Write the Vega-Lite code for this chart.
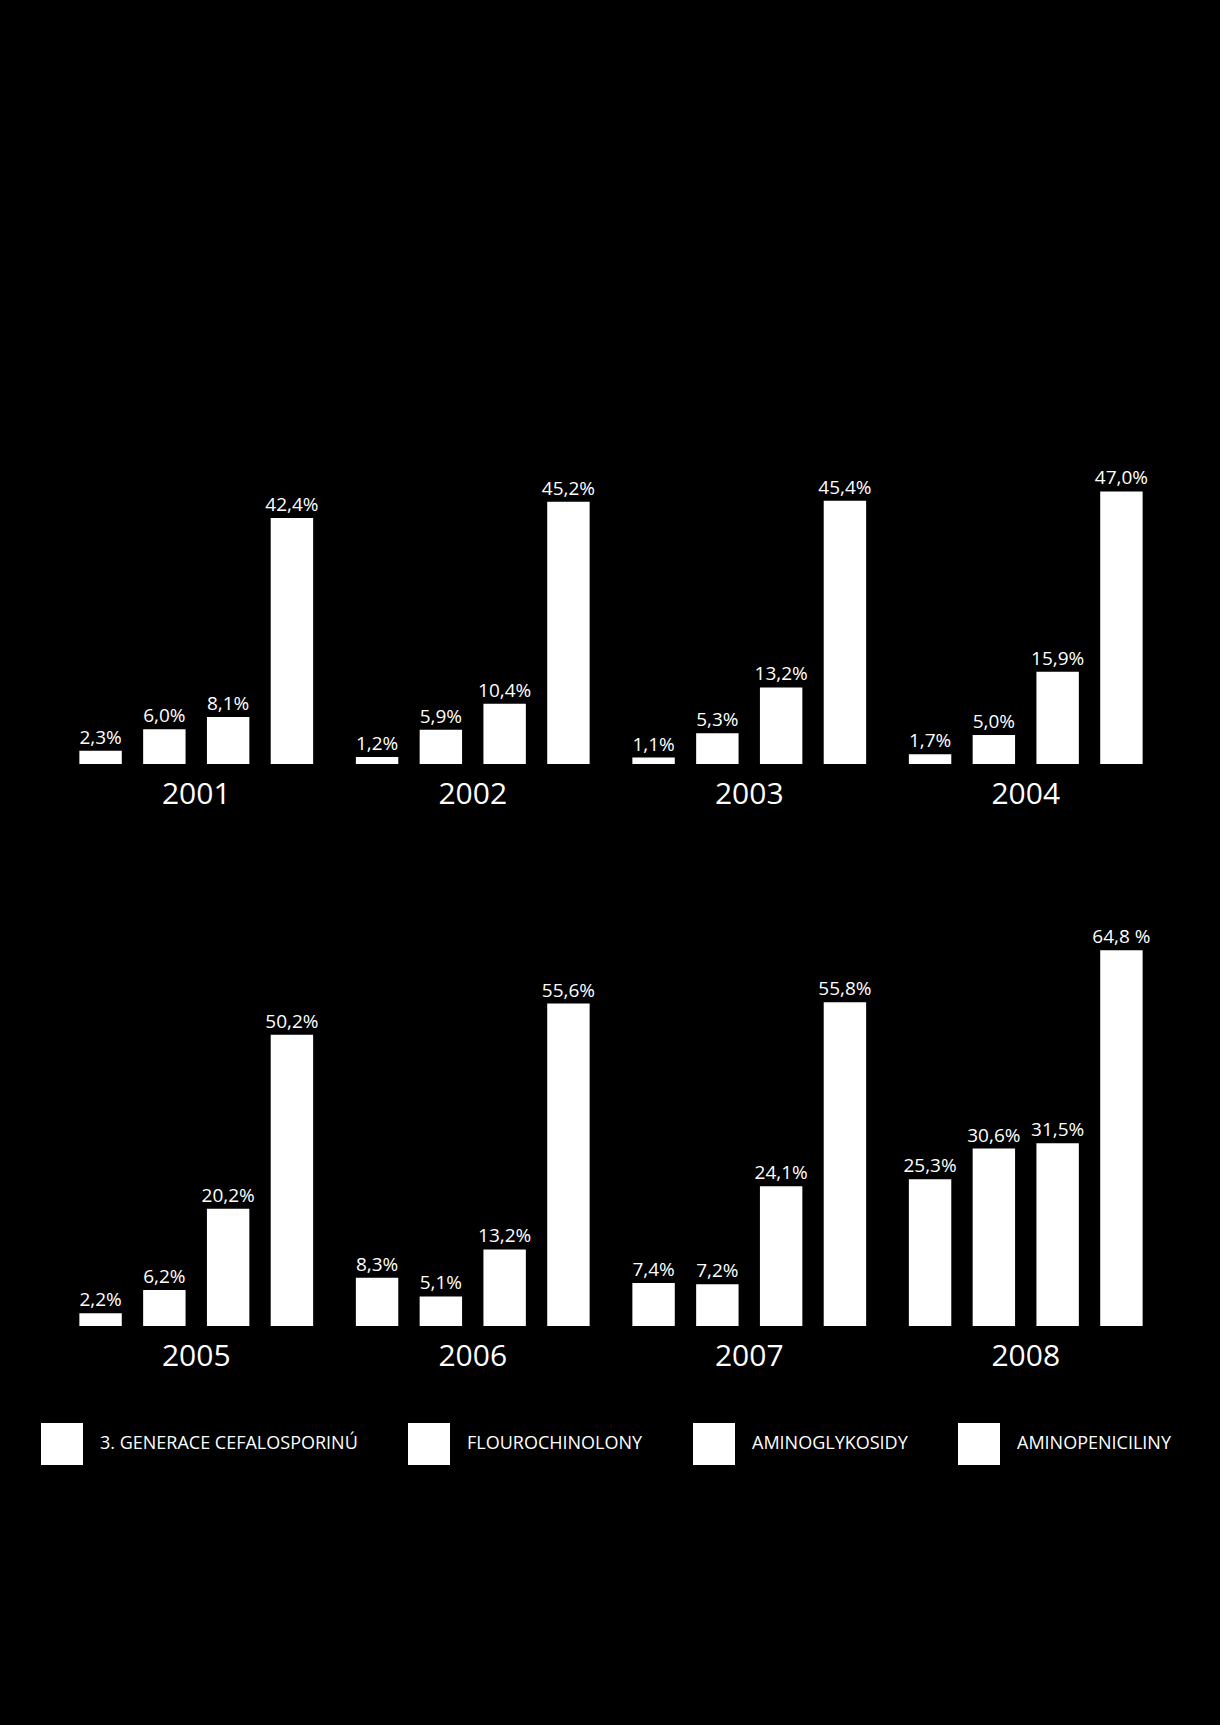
{
  "$schema": "https://vega.github.io/schema/vega-lite/v6.json",
  "background": "black",
  "padding": {"left": 41, "top": 358, "right": 50, "bottom": 260},
  "data": {"values": [
    {"year": 2001, "cat": "3. GENERACE CEFALOSPORINÚ", "value": 2.3, "label": "2,3%"},
    {"year": 2001, "cat": "FLOUROCHINOLONY", "value": 6.0, "label": "6,0%"},
    {"year": 2001, "cat": "AMINOGLYKOSIDY", "value": 8.1, "label": "8,1%"},
    {"year": 2001, "cat": "AMINOPENICILINY", "value": 42.4, "label": "42,4%"},
    {"year": 2002, "cat": "3. GENERACE CEFALOSPORINÚ", "value": 1.2, "label": "1,2%"},
    {"year": 2002, "cat": "FLOUROCHINOLONY", "value": 5.9, "label": "5,9%"},
    {"year": 2002, "cat": "AMINOGLYKOSIDY", "value": 10.4, "label": "10,4%"},
    {"year": 2002, "cat": "AMINOPENICILINY", "value": 45.2, "label": "45,2%"},
    {"year": 2003, "cat": "3. GENERACE CEFALOSPORINÚ", "value": 1.1, "label": "1,1%"},
    {"year": 2003, "cat": "FLOUROCHINOLONY", "value": 5.3, "label": "5,3%"},
    {"year": 2003, "cat": "AMINOGLYKOSIDY", "value": 13.2, "label": "13,2%"},
    {"year": 2003, "cat": "AMINOPENICILINY", "value": 45.4, "label": "45,4%"},
    {"year": 2004, "cat": "3. GENERACE CEFALOSPORINÚ", "value": 1.7, "label": "1,7%"},
    {"year": 2004, "cat": "FLOUROCHINOLONY", "value": 5.0, "label": "5,0%"},
    {"year": 2004, "cat": "AMINOGLYKOSIDY", "value": 15.9, "label": "15,9%"},
    {"year": 2004, "cat": "AMINOPENICILINY", "value": 47.0, "label": "47,0%"},
    {"year": 2005, "cat": "3. GENERACE CEFALOSPORINÚ", "value": 2.2, "label": "2,2%"},
    {"year": 2005, "cat": "FLOUROCHINOLONY", "value": 6.2, "label": "6,2%"},
    {"year": 2005, "cat": "AMINOGLYKOSIDY", "value": 20.2, "label": "20,2%"},
    {"year": 2005, "cat": "AMINOPENICILINY", "value": 50.2, "label": "50,2%"},
    {"year": 2006, "cat": "3. GENERACE CEFALOSPORINÚ", "value": 8.3, "label": "8,3%"},
    {"year": 2006, "cat": "FLOUROCHINOLONY", "value": 5.1, "label": "5,1%"},
    {"year": 2006, "cat": "AMINOGLYKOSIDY", "value": 13.2, "label": "13,2%"},
    {"year": 2006, "cat": "AMINOPENICILINY", "value": 55.6, "label": "55,6%"},
    {"year": 2007, "cat": "3. GENERACE CEFALOSPORINÚ", "value": 7.4, "label": "7,4%"},
    {"year": 2007, "cat": "FLOUROCHINOLONY", "value": 7.2, "label": "7,2%"},
    {"year": 2007, "cat": "AMINOGLYKOSIDY", "value": 24.1, "label": "24,1%"},
    {"year": 2007, "cat": "AMINOPENICILINY", "value": 55.8, "label": "55,8%"},
    {"year": 2008, "cat": "3. GENERACE CEFALOSPORINÚ", "value": 25.3, "label": "25,3%"},
    {"year": 2008, "cat": "FLOUROCHINOLONY", "value": 30.6, "label": "30,6%"},
    {"year": 2008, "cat": "AMINOGLYKOSIDY", "value": 31.5, "label": "31,5%"},
    {"year": 2008, "cat": "AMINOPENICILINY", "value": 64.8, "label": "64,8 %"}
  ]},
  "bounds": "flush",
  "spacing": 156,
  "vconcat": [
    {
      "width": 1106,
      "height": 406,
      "transform": [{"filter": "datum.year <= 2004"}],
      "encoding": {
        "x": {"field": "year", "type": "ordinal", "scale": {"paddingInner": 0, "paddingOuter": 0}, "axis": {"title": null, "domain": false, "ticks": false, "labelFontSize": 30, "labelFont": "Open Sans", "labelColor": "white", "labelBaseline": "alphabetic", "labelPadding": 39, "labelAngle": 0}},
        "xOffset": {"field": "cat", "type": "nominal", "sort": ["3. GENERACE CEFALOSPORINÚ", "FLOUROCHINOLONY", "AMINOGLYKOSIDY", "AMINOPENICILINY"], "scale": {"paddingInner": 0.335, "paddingOuter": 0.335}},
        "y": {"field": "value", "type": "quantitative", "scale": {"domain": [0, 70]}, "axis": null}
      },
      "layer": [
        {"mark": {"type": "bar"}, "encoding": {"color": {"field": "cat", "type": "nominal", "scale": {"domain": ["3. GENERACE CEFALOSPORINÚ", "FLOUROCHINOLONY", "AMINOGLYKOSIDY", "AMINOPENICILINY"], "range": ["#ffffff", "#ffffff", "#ffffff", "#ffffff"]}, "legend": {"title": null, "orient": "none", "legendX": -17, "legendY": 1065, "direction": "horizontal", "columns": 4, "symbolType": "square", "symbolSize": 1764, "symbolStrokeWidth": 0, "labelFont": "Open Sans", "labelFontSize": 18, "labelColor": "white", "labelOffset": 17, "columnPadding": 50, "padding": 0, "labelLimit": 400}}}},
        {"mark": {"type": "text", "dy": -7, "baseline": "alphabetic", "align": "center", "fontSize": 19, "font": "Open Sans", "color": "white"}, "encoding": {"text": {"field": "label"}}}
      ]
    },
    {
      "width": 1106,
      "height": 406,
      "transform": [{"filter": "datum.year >= 2005"}],
      "encoding": {
        "x": {"field": "year", "type": "ordinal", "scale": {"paddingInner": 0, "paddingOuter": 0}, "axis": {"title": null, "domain": false, "ticks": false, "labelFontSize": 30, "labelFont": "Open Sans", "labelColor": "white", "labelBaseline": "alphabetic", "labelPadding": 39, "labelAngle": 0}},
        "xOffset": {"field": "cat", "type": "nominal", "sort": ["3. GENERACE CEFALOSPORINÚ", "FLOUROCHINOLONY", "AMINOGLYKOSIDY", "AMINOPENICILINY"], "scale": {"paddingInner": 0.335, "paddingOuter": 0.335}},
        "y": {"field": "value", "type": "quantitative", "scale": {"domain": [0, 70]}, "axis": null}
      },
      "layer": [
        {"mark": {"type": "bar"}, "encoding": {"color": {"field": "cat", "type": "nominal"}}},
        {"mark": {"type": "text", "dy": -7, "baseline": "alphabetic", "align": "center", "fontSize": 19, "font": "Open Sans", "color": "white"}, "encoding": {"text": {"field": "label"}}}
      ]
    }
  ],
  "resolve": {"scale": {"color": "shared"}},
  "config": {"view": {"stroke": null}}
}
